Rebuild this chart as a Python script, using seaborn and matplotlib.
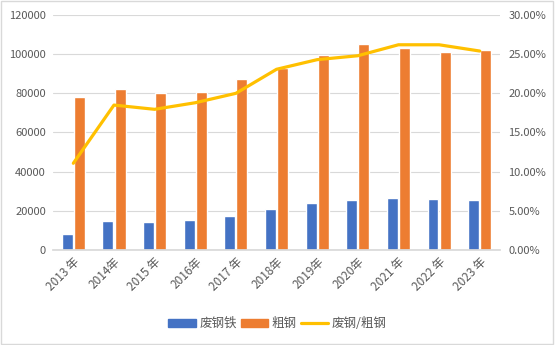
import matplotlib
matplotlib.use("Agg")
import matplotlib.pyplot as plt
import seaborn as sns
import pandas as pd
import numpy as np
from matplotlib.ticker import PercentFormatter, MultipleLocator
from matplotlib.patches import Patch, Rectangle
from matplotlib.lines import Line2D

years = ["2013 年", "2014年", "2015 年", "2016年", "2017 年", "2018年",
         "2019年", "2020年", "2021 年", "2022 年", "2023 年"]
scrap = [8200, 15000, 14400, 15100, 17400, 21000, 24000, 25500, 26500, 26000, 25500]
crude = [77900, 82300, 80400, 80800, 87100, 92800, 99600, 105300, 103300, 101300, 101900]
ratio = [0.1107, 0.185, 0.1796, 0.188, 0.200, 0.2307, 0.243, 0.248, 0.262, 0.262, 0.254]
series_names = ["废钢铁", "粗钢", "废钢/粗钢"]
colors = ["#4472C4", "#ED7D31", "#FFC000"]

sns.set_theme(style="white")
plt.rcParams["font.family"] = ["Noto Sans CJK SC", "DejaVu Sans"]
txt = "#595959"

df = pd.DataFrame({
    "year": years * 2,
    "value": scrap + crude,
    "series": [series_names[0]] * len(years) + [series_names[1]] * len(years),
})

fig = plt.figure(figsize=(5.55, 3.45), dpi=100)
ax = fig.add_axes([0.0955, 0.2754, 0.8055, 0.6811])
sns.barplot(data=df, x="year", y="value", hue="series", order=years,
            hue_order=series_names[:2], palette=colors[:2], width=0.6, gap=0.1,
            saturation=1, ax=ax, legend=False)

ax2 = ax.twinx()
sns.pointplot(x=years, y=ratio, ax=ax2, color=colors[2], markers="",
              linewidth=2.3, errorbar=None)

ax.set_ylim(0, 120000)
ax.yaxis.set_major_locator(MultipleLocator(20000))
ax2.set_ylim(0, 0.30)
ax2.yaxis.set_major_locator(MultipleLocator(0.05))
ax2.yaxis.set_major_formatter(PercentFormatter(1.0, decimals=2))
ax.set_xlim(-0.5, len(years) - 0.5)

ax.grid(axis="y", color="#D9D9D9", linewidth=0.8)
ax.set_axisbelow(True)
for a in (ax, ax2):
    for s in a.spines.values():
        s.set_visible(False)
    a.set_xlabel("")
    a.set_ylabel("")
ax.spines["bottom"].set_visible(True)
ax.spines["bottom"].set_color("#D9D9D9")

ax.tick_params(axis="y", colors=txt, labelsize=8, length=0, pad=5)
ax2.tick_params(axis="y", colors=txt, labelsize=8, length=0, pad=6)
ax.tick_params(axis="x", colors=txt, labelsize=8.5, length=0, pad=4)
for lab in ax.get_xticklabels():
    lab.set_rotation(45)
    lab.set_ha("right")
    lab.set_va("top")
    lab.set_rotation_mode("anchor")

handles = [Patch(color=colors[0]), Patch(color=colors[1]),
           Line2D([], [], color=colors[2], lw=2.3)]
fig.legend(handles, series_names, loc="center", bbox_to_anchor=(0.5, 0.062),
           ncol=3, frameon=False, fontsize=9, handlelength=2.2, handleheight=0.6,
           columnspacing=0.3, handletextpad=0.3, labelcolor=txt)

fig.add_artist(Rectangle((0.002, 0.003), 0.995, 0.994, transform=fig.transFigure,
                         fill=False, edgecolor="#D9D9D9", linewidth=1))

fig.savefig("out.png", dpi=100)
